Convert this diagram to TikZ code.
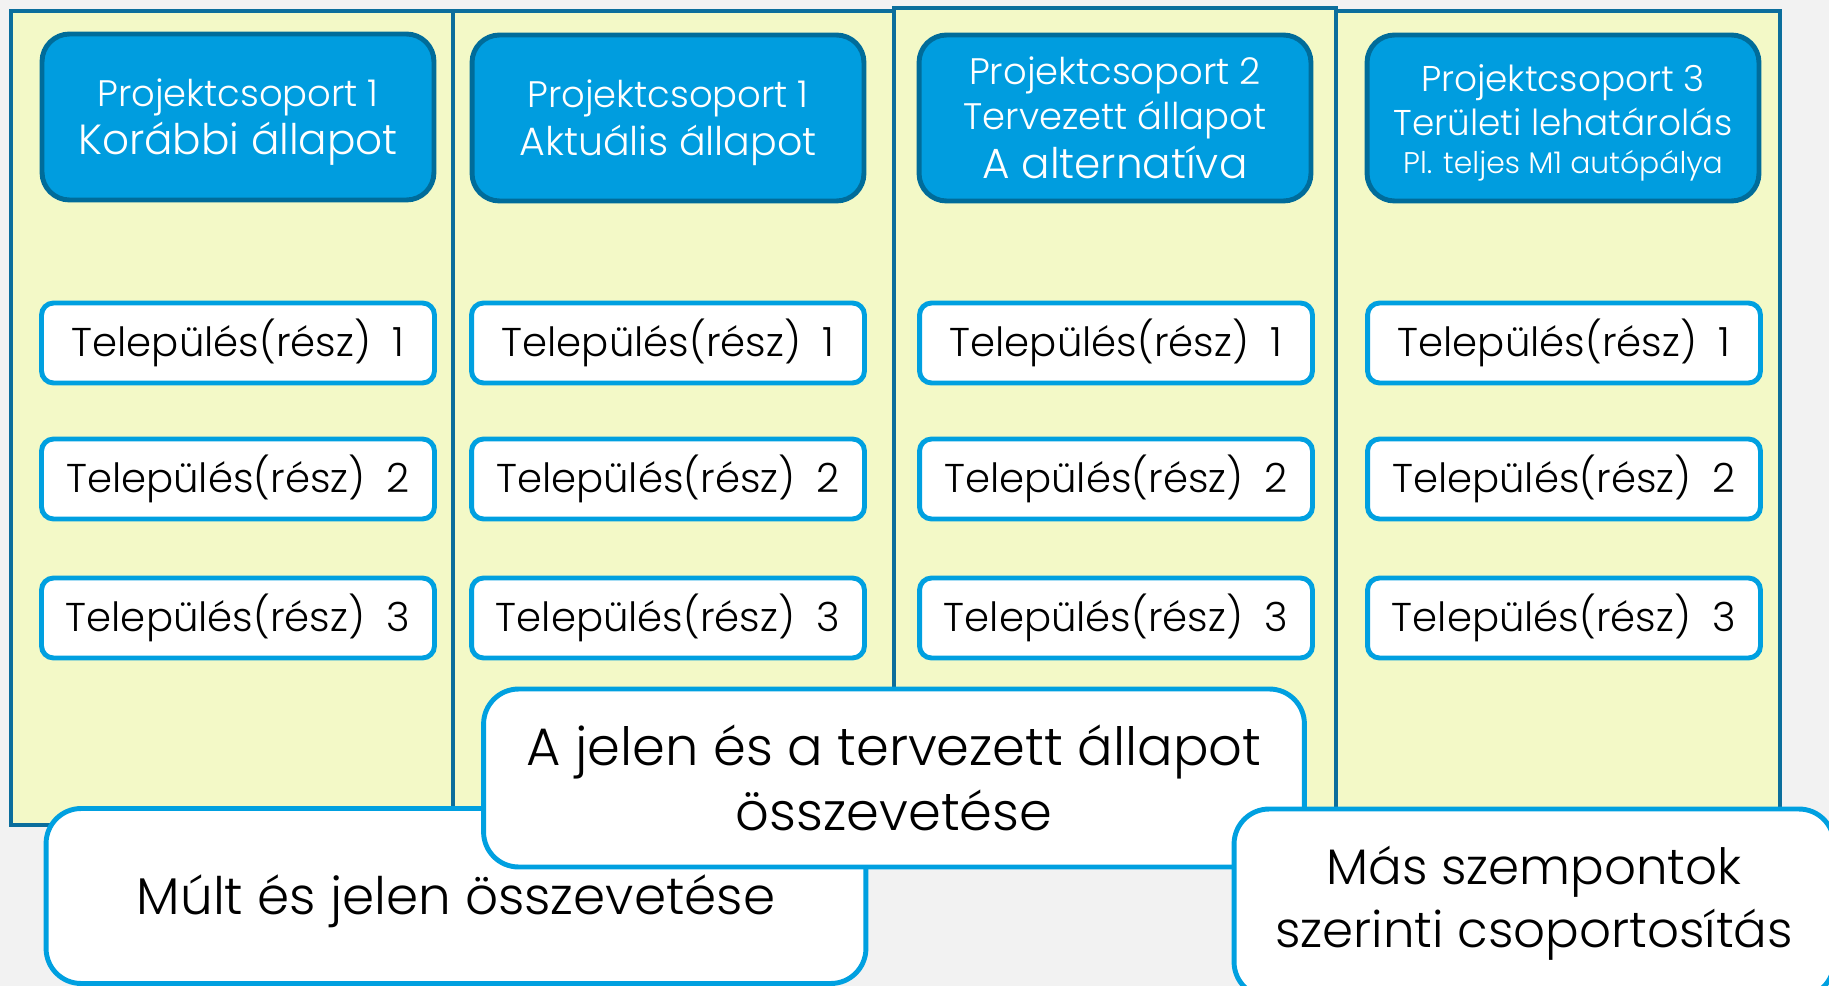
\documentclass[tikz,border=0pt]{standalone}
\usepackage{fontspec}
\setmainfont{Poppins Light}
\definecolor{bggray}{HTML}{F2F2F2}
\definecolor{panelfill}{HTML}{F3F9C7}
\definecolor{paneldraw}{HTML}{0B6E9C}
\definecolor{headfill}{HTML}{009DDF}
\definecolor{headdraw}{HTML}{006C9A}
\definecolor{boxdraw}{HTML}{00A0E0}
\newcommand{\lift}[1]{\rule{0pt}{#1}}
\begin{document}
\begin{tikzpicture}[x=0.02cm,y=-0.02cm,
  panel/.style={draw=paneldraw,fill=panelfill,line width=2.8pt},
  head/.style={draw=headdraw,fill=headfill,line width=2.8pt,rounded corners=0.55cm,minimum width=7.84cm,minimum height=3.32cm,text=white,align=center,inner sep=0pt,font=\fontsize{21}{27.2}\selectfont},
  place/.style={draw=boxdraw,fill=white,line width=2.8pt,rounded corners=0.24cm,minimum width=7.86cm,minimum height=1.6cm,inner sep=0pt,font=\fontsize{22.9}{26}\selectfont},
  note/.style={draw=boxdraw,fill=white,line width=2.8pt,rounded corners=0.7cm,align=center,inner sep=0pt,font=\fontsize{30}{36.8}\selectfont}]
\fill[bggray] (0,0) rectangle (1829,986);
\useasboundingbox (0,0) rectangle (1829,986);
% columns
\draw[panel] (11,11) rectangle (453,825);
\draw[panel] (453,11) rectangle (894,825);
\draw[panel] (894,8) rectangle (1336,825);
\draw[panel] (1336,11) rectangle (1780,825);
% column heads
\node[head] (h1) at (238,117) {\lift{21.5pt}Projektcsoport 1\\{\fontsize{24}{27.2}\selectfont Korábbi állapot}};
\node[head] (h2) at (668,118) {\lift{21.5pt}Projektcsoport 1\\{\fontsize{22.5}{27.2}\selectfont Aktuális állapot}};
\node[head,font=\fontsize{21}{25.5}\selectfont] (h3) at (1115,118) {Projektcsoport 2\\Tervezett állapot\\[2.8pt]{\fontsize{24}{28.3}\selectfont A alternatíva}};
\node[head,font=\fontsize{20.4}{25}\selectfont] (h4) at (1563,118) {\lift{21pt}Projektcsoport 3\\Területi lehatárolás\\[-3.5pt]{\fontsize{17}{20}\selectfont Pl. teljes M1 autópálya}};
% places
\foreach \n/\x in {1/238,2/668,3/1116,4/1564}{
  \node[place] (t\n1) at (\x,343) {Település(rész)~\hspace{6pt}1};
  \node[place] (t\n2) at (\x,479) {Település(rész)~\hspace{6pt}2};
  \node[place] (t\n3) at (\x,618) {Település(rész)~\hspace{6pt}3};
}
% comparisons
\node[note,minimum width=16.4cm,minimum height=3.5cm,font=\fontsize{29.4}{36}\selectfont] (past) at (456,896) {\lift{28.6pt}Múlt és jelen összevetése};
\node[note,minimum width=16.42cm,minimum height=3.56cm] (plan) at (894,778) {A jelen és a tervezett állapot\\összevetése};
\node[note,minimum width=12cm,minimum height=3.76cm,font=\fontsize{28.4}{35.7}\selectfont] (other) at (1534,903) {Más szempontok\\szerinti csoportosítás};
\end{tikzpicture}
\end{document}
